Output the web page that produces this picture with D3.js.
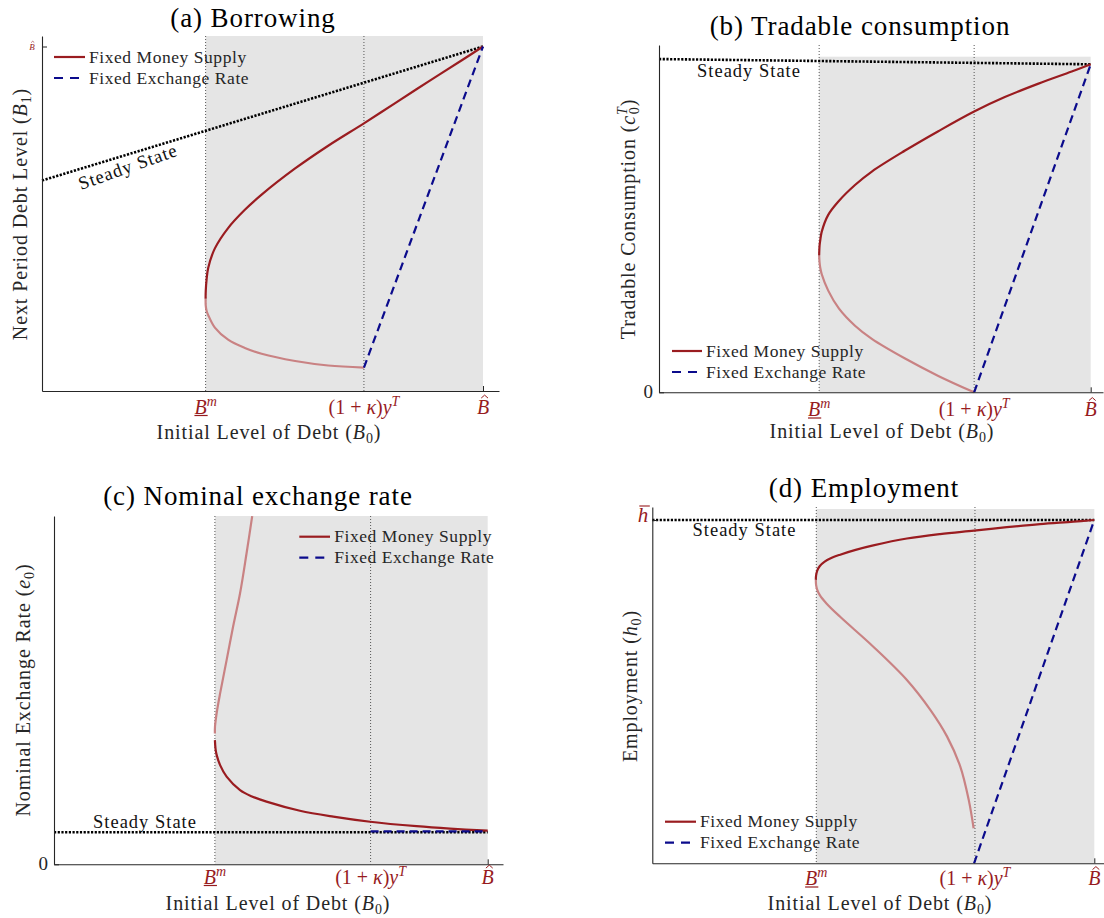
<!DOCTYPE html>
<html>
<head>
<meta charset="utf-8">
<script src="https://cdn.jsdelivr.net/npm/d3@7"></script>
<style>
  body { margin: 0; background: #fff; }
</style>
</head>
<body>
<svg id="fig" width="1104" height="918"></svg>
<script>
// initial debt B0, scaled so that B-hat = 1 (same in all four panels)
const xTickValues = [0.371, 0.730, 1.0];   // B^m, (1+kappa)y^T, B-hat
const legendLabels = ["Fixed Money Supply", "Fixed Exchange Rate"];
const panelTitles = ["(a) Borrowing", "(b) Tradable consumption",
                     "(c) Nominal exchange rate", "(d) Employment"];

// (a) next period debt B1 (B-hat = 1); dark = good branch, light = bad branch
const borrowDark = [[0.371,0.268],[0.3713,0.29],[0.3733,0.325],[0.377,0.358],[0.392,0.414],
  [0.422,0.473],[0.460,0.526],[0.498,0.570],[0.574,0.646],[0.649,0.712],[0.730,0.777],
  [0.800,0.835],[0.876,0.898],[0.952,0.960],[1.0,1.0]];
const borrowLight = [[0.371,0.268],[0.3713,0.248],[0.3733,0.232],[0.377,0.220],[0.392,0.184],
  [0.422,0.149],[0.460,0.125],[0.498,0.108],[0.574,0.087],[0.649,0.074],[0.730,0.068]];
const borrowPeg = [[0.730,0.068],[1.0,1.0]];
const borrowSteady = [[0,0.611],[1.0,1.0]];

// (b) tradable consumption c0^T (value at B-hat = 1)
const consDark = [[0.371,0.418],[0.372,0.448],[0.374,0.468],[0.377,0.490],[0.392,0.541],
  [0.415,0.581],[0.454,0.632],[0.493,0.673],[0.570,0.737],[0.647,0.796],[0.730,0.856],
  [0.801,0.900],[0.879,0.941],[0.956,0.978],[1.0,1.0]];
const consLight = [[0.371,0.418],[0.3718,0.398],[0.3735,0.380],[0.377,0.360],[0.392,0.310],
  [0.417,0.255],[0.454,0.203],[0.493,0.163],[0.570,0.103],[0.647,0.050],[0.730,0.0]];
const consPeg = [[0.730,0.0],[1.0,1.0]];
const consSteady = [[0,1.016],[1.0,1.0]];

// (c) nominal exchange rate e0 (steady state = 1)
const rateDark = [[0.371,3.88],[0.3725,3.60],[0.375,3.42],[0.383,3.10],[0.398,2.74],
  [0.429,2.32],[0.455,2.13],[0.490,1.96],[0.567,1.675],[0.644,1.49],[0.729,1.33],
  [0.836,1.19],[0.913,1.115],[1.0,1.05]];
const rateLight = [[0.371,4.09],[0.3712,4.30],[0.375,4.72],[0.383,5.34],[0.398,6.38],
  [0.413,7.43],[0.429,8.47],[0.444,9.72],[0.457,10.88]];
const ratePeg = [[0.730,1.03],[1.0,1.03]];
const rateSteady = [[0,1.0],[1.0,1.0]];

// (d) employment h0 (h-bar = 1)
const empDark = [[0.370,0.826],[0.3705,0.838],[0.373,0.852],[0.379,0.866],[0.390,0.879],
  [0.406,0.890],[0.425,0.899],[0.460,0.913],[0.500,0.926],[0.576,0.946],[0.651,0.959],
  [0.728,0.969],[0.802,0.979],[0.877,0.988],[0.953,0.995],[1.0,1.0]];
const empLight = [[0.370,0.826],[0.3705,0.812],[0.373,0.797],[0.379,0.781],[0.394,0.757],
  [0.425,0.718],[0.500,0.631],[0.576,0.534],[0.629,0.447],[0.667,0.369],[0.697,0.281],
  [0.716,0.184],[0.727,0.102]];
const empPeg = [[0.728,0.0],[1.0,1.0]];
const empSteady = [[0,1.0],[1.0,1.0]];

const red = "#9a1c20", pink = "#c98283", navy = "#0b0b8c", ink = "#262626", tickRed = "#971b1e";
const serif = "'Liberation Serif', 'Times New Roman', serif";

let svg = d3.select("#fig");

// layout of each subplot in pixels
let panels = [
  { title: panelTitles[0], titlePos: [253, 27],
    x0: 42, xB: 483, xEnd: 499, y0: 391, yOne: 46.5, yTop: 36, grayTop: 36,
    dark: borrowDark, light: borrowLight, peg: borrowPeg, steady: borrowSteady,
    yTick: 1, yTickLabel: "Bhat",
    xLabelY: 413.5, xTitle: [269, 439],
    yTitle: { x: 27, y: 214, parts: [{t: "Next Period Debt Level ("}, {t: "B", it: 1}, {t: "1", sh: "sub"}, {t: ")"}] },
    legend: { x1: 54, x2: 85, y: 57, tx: 89 },
    steadyText: { x: 81, y: 190, rot: -19.5 } },
  { title: panelTitles[1], titlePos: [860, 35],
    x0: 659, xB: 1090.7, xEnd: 1103, y0: 392.3, yOne: 64.3, yTop: 45, grayTop: 56.7,
    dark: consDark, light: consLight, peg: consPeg, steady: consSteady,
    yTick: 0, yTickLabel: "0",
    xLabelY: 416, xTitle: [882, 438],
    yTitle: { x: 635, y: 219, parts: [{t: "Tradable Consumption ("}, {t: "c", it: 1}, {t: "T", it: 1, sh: "sup"}, {t: "0", sh: "sub", dx: -8}, {t: ")"}] },
    legend: { x1: 672, x2: 702, y: 351, tx: 706 },
    steadyText: { x: 697, y: 77, rot: 0 } },
  { title: panelTitles[2], titlePos: [258, 505],
    x0: 54, xB: 487.7, xEnd: 503, y0: 864.3, yOne: 832.3, yTop: 516, grayTop: 516,
    dark: rateDark, light: rateLight, peg: ratePeg, steady: rateSteady,
    yTick: 0, yTickLabel: "0",
    xLabelY: 883.5, xTitle: [278, 910],
    yTitle: { x: 30, y: 690, parts: [{t: "Nominal Exchange Rate ("}, {t: "e", it: 1}, {t: "0", sh: "sub"}, {t: ")"}] },
    legend: { x1: 299.3, x2: 330, y: 536.7, tx: 334.3 },
    steadyText: { x: 93, y: 827.7, rot: 0 } },
  { title: panelTitles[3], titlePos: [864, 497],
    x0: 652.3, xB: 1094.3, xEnd: 1104, y0: 863.3, yOne: 520, yTop: 507, grayTop: 509,
    dark: empDark, light: empLight, peg: empPeg, steady: empSteady,
    yTick: 1, yTickLabel: "hbar",
    xLabelY: 885, xTitle: [880, 910],
    yTitle: { x: 637, y: 686, parts: [{t: "Employment ("}, {t: "h", it: 1}, {t: "0", sh: "sub"}, {t: ")"}] },
    legend: { x1: 665, x2: 696, y: 821.7, tx: 700 },
    steadyText: { x: 692.5, y: 536, rot: 0 } }
];

// text element with the serif face set inline
function addText(g, size) {
  return g.append("text").style("font-family", serif).style("font-size", size + "px");
}

// writes text made of plain / italic / sub / superscript pieces
function richText(sel, parts, size) {
  let cur = 0;
  parts.forEach(function (p) {
    let target = p.sh === "sup" ? -0.4 * size : p.sh === "sub" ? 0.18 * size : 0;
    let ts = sel.append("tspan").text(p.t).attr("dy", target - cur)
      .style("font-family", serif).style("font-size", (p.sh ? size * 0.7 : size) + "px");
    cur = target;
    if (p.it) ts.style("font-style", "italic");
    if (p.dx) ts.attr("dx", p.dx);
  });
  return sel;
}

function drawPanel(p) {
  let xMax = (p.xEnd - p.x0) / (p.xB - p.x0);
  let yMax = (p.y0 - p.yTop) / (p.y0 - p.yOne);
  let x = d3.scaleLinear().domain([0, xMax]).range([p.x0, p.xEnd]);
  let y = d3.scaleLinear().domain([0, yMax]).range([p.y0, p.yTop]);
  let g = svg.append("g");

  // shaded region between B^m and B-hat
  g.append("rect")
    .attr("x", x(xTickValues[0])).attr("width", x(xTickValues[2]) - x(xTickValues[0]))
    .attr("y", p.grayTop).attr("height", p.y0 - p.grayTop)
    .attr("fill", "#e5e5e5");

  // dotted verticals
  g.selectAll(".vline").data(xTickValues.slice(0, 2)).enter().append("line")
    .attr("x1", d => x(d)).attr("x2", d => x(d))
    .attr("y1", p.yTop).attr("y2", p.y0)
    .attr("stroke", "#555").attr("stroke-width", 1).attr("stroke-dasharray", "1,2");

  let line = d3.line().x(d => x(d[0])).y(d => y(d[1]));
  let smooth = d3.line().x(d => x(d[0])).y(d => y(d[1])).curve(d3.curveCatmullRom.alpha(0.5));

  g.append("path").datum(p.steady).attr("d", line)
    .attr("fill", "none").attr("stroke", "#000").attr("stroke-width", 2.6)
    .attr("stroke-dasharray", "2.2,1.5");

  g.append("path").datum(p.light).attr("d", smooth)
    .attr("fill", "none").attr("stroke", pink).attr("stroke-width", 2.2);
  g.append("path").datum(p.dark).attr("d", smooth)
    .attr("fill", "none").attr("stroke", red).attr("stroke-width", 2.2);
  g.append("path").datum(p.peg).attr("d", line)
    .attr("fill", "none").attr("stroke", navy).attr("stroke-width", 2.2)
    .attr("stroke-dasharray", "8,5");

  // axes, ticks pointing inwards
  let xAxis = d3.axisBottom(x).tickValues([xTickValues[2]]).tickSizeInner(-5).tickSizeOuter(0).tickFormat("");
  let yAxis = d3.axisLeft(y).tickValues([p.yTick]).tickSizeInner(-5).tickSizeOuter(0).tickFormat("");
  let xGroup = g.append("g").attr("transform", translate(0, p.y0)).call(xAxis);
  let yGroup = g.append("g").attr("transform", translate(p.x0, 0)).call(yAxis);
  [xGroup, yGroup].forEach(function (ax) {
    ax.select(".domain").attr("stroke", ink).attr("stroke-width", 1.1);
    ax.selectAll(".tick line").attr("stroke", ink);
  });

  // x tick labels
  let fs = 20;
  let bm = addText(g, fs).attr("x", x(xTickValues[0])).attr("y", p.xLabelY)
    .attr("text-anchor", "middle").attr("fill", tickRed);
  richText(bm, [{t: "B", it: 1}, {t: "m", it: 1, sh: "sup"}], fs);
  let b0 = bm.node().getStartPositionOfChar(0), b1 = bm.node().getEndPositionOfChar(0);
  g.append("line").attr("x1", b0.x).attr("x2", b1.x + 1)
    .attr("y1", p.xLabelY + 2).attr("y2", p.xLabelY + 2)
    .attr("stroke", tickRed).attr("stroke-width", 1.2);

  let kap = addText(g, fs).attr("x", x(xTickValues[1])).attr("y", p.xLabelY)
    .attr("text-anchor", "middle").attr("fill", tickRed);
  richText(kap, [{t: "(1 + "}, {t: "κ", it: 1}, {t: ")"}, {t: "y", it: 1}, {t: "T", it: 1, sh: "sup"}], fs);

  let bh = addText(g, fs).attr("x", x(xTickValues[2])).attr("y", p.xLabelY)
    .attr("text-anchor", "middle").attr("fill", tickRed)
    .style("font-style", "italic").text("B");
  hat(g, bh, fs, p.xLabelY, tickRed);

  // y tick label
  let yt = y(p.yTick);
  if (p.yTickLabel === "0") {
    addText(g, 19).attr("x", p.x0 - 6).attr("y", yt + 6).attr("text-anchor", "end")
      .attr("fill", ink).text("0");
  } else if (p.yTickLabel === "Bhat") {
    let t = addText(g, 9).attr("x", p.x0 - 10).attr("y", yt + 3).attr("text-anchor", "middle")
      .attr("fill", tickRed).style("font-style", "italic").text("B");
    hat(g, t, 9, yt + 3, tickRed);
  } else {
    let t = addText(g, 21).attr("x", p.x0 - 4).attr("y", yt + 1.5).attr("text-anchor", "end")
      .attr("fill", tickRed).style("font-style", "italic").text("h");
    let s = t.node().getStartPositionOfChar(0), e = t.node().getEndPositionOfChar(0);
    g.append("line").attr("x1", s.x + 1.5).attr("x2", e.x + 1.5).attr("y1", yt - 14).attr("y2", yt - 14)
      .attr("stroke", tickRed).attr("stroke-width", 1.1);
  }

  // axis titles
  let xt = addText(g, 20).attr("x", p.xTitle[0]).attr("y", p.xTitle[1])
    .attr("text-anchor", "middle").attr("fill", ink).style("letter-spacing", "0.9px");
  richText(xt, [{t: "Initial Level of Debt ("}, {t: "B", it: 1}, {t: "0", sh: "sub"}, {t: ")"}], 20);

  let ytl = addText(g, 20).attr("transform", translate(p.yTitle.x, p.yTitle.y) + " rotate(-90)")
    .attr("text-anchor", "middle").attr("fill", ink).style("letter-spacing", "0.9px");
  richText(ytl, p.yTitle.parts, 20);

  // steady state label
  addText(g, 18.5).attr("transform", translate(p.steadyText.x, p.steadyText.y) + " rotate(" + p.steadyText.rot + ")")
    .attr("fill", "#111").style("letter-spacing", "1px")
    .text("Steady State");

  // legend
  let L = p.legend;
  g.append("line").attr("x1", L.x1).attr("x2", L.x2).attr("y1", L.y).attr("y2", L.y)
    .attr("stroke", red).attr("stroke-width", 2.2);
  g.append("line").attr("x1", L.x1).attr("x2", L.x2).attr("y1", L.y + 21).attr("y2", L.y + 21)
    .attr("stroke", navy).attr("stroke-width", 2.2).attr("stroke-dasharray", "9,7");
  legendLabels.forEach(function (lab, i) {
    addText(g, 17.5).attr("x", L.tx).attr("y", L.y + 5.5 + i * 21)
      .attr("fill", ink).style("letter-spacing", "0.55px").text(lab);
  });

  // panel title
  addText(g, 27).attr("x", p.titlePos[0]).attr("y", p.titlePos[1])
    .attr("text-anchor", "middle").attr("fill", "#000").style("letter-spacing", "0.9px")
    .text(p.title);
}

// circumflex over a single italic B
function hat(g, t, size, base, col) {
  let s = t.node().getStartPositionOfChar(0), e = t.node().getEndPositionOfChar(0);
  let cx = (s.x + e.x) / 2 + size * 0.08;
  let top = base - size * 0.72;
  g.append("path")
    .attr("d", "M" + (cx - size * 0.17) + "," + (top - size * 0.05) + "L" + cx + "," + (top - size * 0.2) +
               "L" + (cx + size * 0.17) + "," + (top - size * 0.05))
    .attr("fill", "none").attr("stroke", col).attr("stroke-width", Math.max(0.6, size * 0.05));
}

function translate(x, y) {
  return "translate(" + x + "," + y + ")";
}

panels.forEach(drawPanel);
</script>
</body>
</html>
